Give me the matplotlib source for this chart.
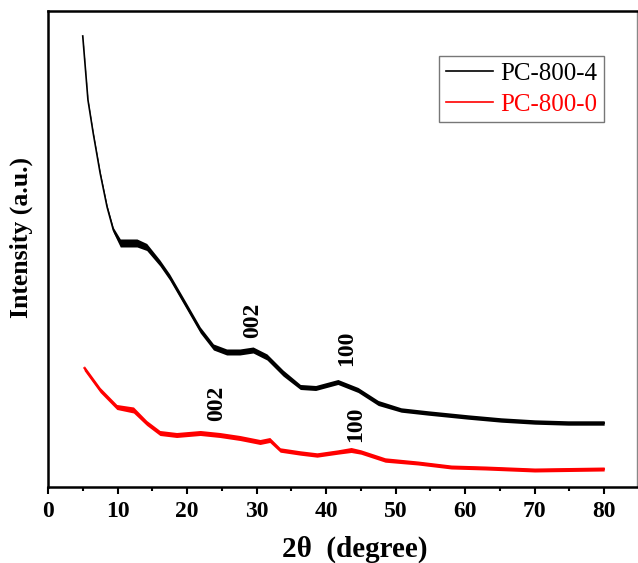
import numpy as np
import matplotlib
matplotlib.use("Agg")
import matplotlib.pyplot as plt

# XRD patterns (2theta in degrees, intensity in arbitrary units)
pc4_x = [5, 5.75, 6.5, 7.5, 8.5, 9.4, 10.4, 12.8, 14.2, 16.1, 17.5, 20, 21.9, 23.8, 25.7,
         27.6, 29.5, 31.5, 33.8, 36.3, 38.5, 41.7, 44.6, 47.5, 50.8, 54.7, 60.4, 65.2,
         70, 74.8, 80]
pc4_y = [451, 387, 354, 314, 280, 257, 244, 244, 240, 224, 210, 180, 157, 140, 135,
         135, 137, 130, 114, 100, 99, 105, 97, 84, 77, 74, 70, 67,
         65, 64, 64]
# half-width of the noisy band around each point
pc4_band = [1, 1, 1.2, 1.5, 1.8, 2.5, 4, 4, 3.5, 3, 3, 3, 3, 3, 3,
            3, 3, 3, 3, 2.5, 2.5, 2.5, 2.5, 2.5, 2.2, 2.2, 2.2, 2.2,
            2.2, 2.2, 2.2]

pc0_x = [5.2, 7.5, 9.9, 12.3, 14.2, 16.1, 18.5, 21.9, 24.7, 27.6, 30.5, 31.9, 33.4,
         36.3, 38.7, 41.7, 43.6, 45, 48.5, 53.2, 58, 62.9, 70, 80]
pc0_y = [119, 97, 80, 77, 64, 54, 52, 54, 52, 49, 45, 47, 37,
         34, 32, 35, 37, 35, 27, 24, 20, 19, 17, 18]
pc0_band = [2.5, 2.5, 2.5, 3, 2.5, 2.5, 2.5, 2.5, 2.5, 2.5, 2.5, 2.5, 2.2,
            2.2, 2.2, 2.2, 2.5, 2.2, 2.2, 2, 2, 2, 2, 2]

# (hkl label, 2theta, intensity) for each series
peaks_pc4 = [("002", 29.5, 167), ("100", 42.9, 139)]
peaks_pc0 = [("002", 24.3, 84), ("100", 44.2, 63)]

plt.rcParams['font.family'] = ['Liberation Serif', 'DejaVu Serif']

fig = plt.figure(figsize=(6.38, 5.63), dpi=100)
ax = fig.add_axes([0.0752, 0.135, 0.923, 0.8455])

for x, y, band, c, lab in [(pc4_x, pc4_y, pc4_band, 'black', 'PC-800-4'),
                           (pc0_x, pc0_y, pc0_band, '#ff0000', 'PC-800-0')]:
    x = np.array(x); y = np.array(y); band = np.array(band)
    ax.fill_between(x, y - band, y + band, color=c, lw=0)
    ax.plot(x, y, color=c, lw=1.2, label=lab)

for lab, x, y in peaks_pc4 + peaks_pc0:
    ax.text(x, y, lab, rotation=90, ha='center', va='center',
            fontsize=17, fontweight='bold')

ax.set_xlim(0, 84.7)
ax.set_ylim(0, 476)
ax.set_xticks(range(0, 81, 10))
ax.set_xticks(range(5, 81, 10), minor=True)
ax.set_yticks([])
ax.tick_params(axis='x', which='major', direction='out', length=5, width=1.5,
               labelsize=17, pad=5)
ax.tick_params(axis='x', which='minor', direction='out', length=3, width=1.5)
for t in ax.get_xticklabels():
    t.set_fontweight('bold')

for s in ['left', 'bottom', 'top']:
    ax.spines[s].set_linewidth(1.8)
ax.spines['right'].set_linewidth(1)
ax.spines['right'].set_color('#888888')

ax.set_xlabel('2θ  (degree)', fontsize=21, fontweight='bold', labelpad=10)
ax.xaxis.label.set_x(0.521)
ax.set_ylabel('Intensity (a.u.)', fontsize=18.5, fontweight='bold', labelpad=11)
ax.yaxis.label.set_y(0.525)

leg = ax.legend(loc='upper right', bbox_to_anchor=(0.944, 0.905), fontsize=18,
                frameon=True, fancybox=False, edgecolor='#555555',
                labelcolor='linecolor', handlelength=1.9, handletextpad=0.3,
                borderpad=0.25, labelspacing=0.35, borderaxespad=0)
leg.get_frame().set_linewidth(1)

fig.savefig('out.png', dpi=100)
